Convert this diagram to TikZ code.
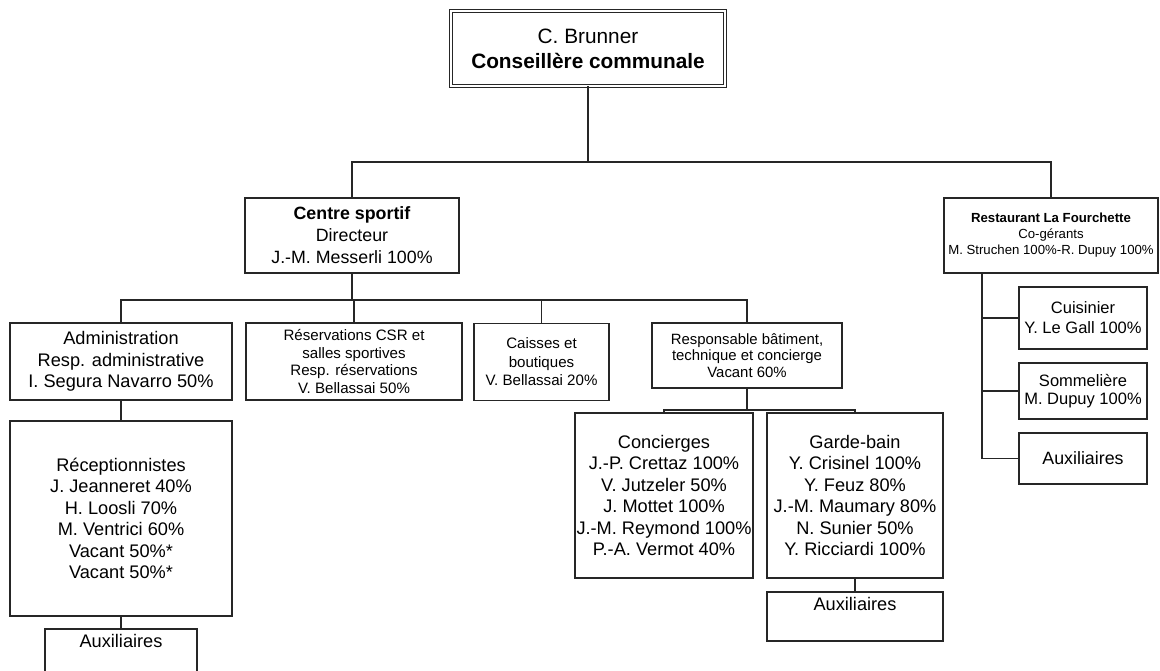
\documentclass[tikz,border=0pt]{standalone}
\usepackage{fontspec}
\setmainfont{Liberation Sans}
\begin{document}
\begin{tikzpicture}[x=1pt, y=-1pt,
    box/.style={draw=black!85, line width=1.1pt, align=center, inner xsep=0.5pt, inner ysep=2pt, outer sep=0pt,
        font=\fontsize{18.2}{21.5}\selectfont},
    smallbox/.style={box, font=\fontsize{15.1}{17.5}\selectfont},
    tinybox/.style={box, font=\fontsize{13.2}{16}\selectfont},
    topbox/.style={box, text height=16pt},
    link/.style={draw=black!85, line width=1.1pt}]
                \useasboundingbox (0,0) rectangle (1160,670);

                % Conseillere
                \node[box, double, line width=1.3pt, double distance=2pt, minimum width=274pt, minimum height=75pt,
                    font=\fontsize{20.8}{25}\selectfont] (brunner) at (588,48.5) {C. Brunner\\\textbf{Conseillère communale}};

                % Centre sportif et restaurant
                \node[box, minimum width=214pt, minimum height=75pt, font=\fontsize{17.8}{22}\selectfont] (centre) at (352,235.5)
                    {\textbf{Centre sportif}\\Directeur\\J.-M. Messerli 100\%};
                \node[tinybox, minimum width=214pt, minimum height=75pt] (resto) at (1051,235.5)
                    {\textbf{Restaurant La Fourchette}\\Co-gérants\\M. Struchen 100\%-R. Dupuy 100\%};

                % Secteurs du centre
                \node[box, minimum width=222pt, minimum height=77pt] (admin) at (121,361.5)
                    {Administration\\Resp. administrative\\I. Segura Navarro 50\%};
                \node[smallbox, minimum width=216pt, minimum height=77pt] (resa) at (354,361.5)
                    {Réservations CSR et\\salles sportives\\Resp. réservations\\V. Bellassai 50\%};
                \node[smallbox, minimum width=135pt, minimum height=77pt, font=\fontsize{15.1}{18.5}\selectfont] (caisses) at (541.5,362)
                    {Caisses et\\boutiques\\V. Bellassai 20\%};
                \node[smallbox, minimum width=190pt, minimum height=65pt, font=\fontsize{14.9}{16.5}\selectfont] (batiment) at (747,355.5)
                    {Responsable bâtiment,\\technique et concierge\\Vacant 60\%};

                % Equipes
                \node[box, minimum width=222pt, minimum height=195pt] (recep) at (121,518.5)
                    {Réceptionnistes\\J. Jeanneret 40\%\\H. Loosli 70\%\\M. Ventrici 60\%\\Vacant 50\%*\\Vacant 50\%*};
                \node[topbox, minimum width=152pt, text depth=38pt, anchor=north] (auxrecep) at (121,629) {Auxiliaires};
                \node[box, minimum width=178pt, minimum height=165pt] (concierges) at (664,495.5)
                    {Concierges\\J.-P. Crettaz 100\%\\V. Jutzeler 50\%\\J. Mottet 100\%\\J.-M. Reymond 100\%\\P.-A. Vermot 40\%};
                \node[box, minimum width=176pt, minimum height=165pt] (garde) at (855,495.5)
                    {Garde-bain\\Y. Crisinel 100\%\\Y. Feuz 80\%\\J.-M. Maumary 80\%\\N. Sunier 50\%\\Y. Ricciardi 100\%};
                \node[topbox, minimum width=176pt, text depth=29pt, anchor=north] (auxgarde) at (855,592) {Auxiliaires};

                % Restaurant
                \node[box, minimum width=128pt, minimum height=62pt, font=\fontsize{16.5}{20}\selectfont] (cuisinier) at (1083,318)
                    {Cuisinier\\Y. Le Gall 100\%};
                \node[box, minimum width=128pt, minimum height=56pt, font=\fontsize{16.5}{18.5}\selectfont] (sommeliere) at (1083,391)
                    {Sommelière\\M. Dupuy 100\%};
                \node[box, minimum width=128pt, minimum height=51pt, font=\fontsize{17.8}{21}\selectfont] (auxresto) at (1083,458.5) {Auxiliaires};

                % Liaisons
                \coordinate (bus1) at (0,162);
                \coordinate (bus2) at (0,300);
                \coordinate (bus3) at (0,410);
                \coordinate (rspine) at (982,273);
                \draw[link] (brunner.south) -- (brunner.south |- bus1);
                \draw[link] (centre.north) |- (resto.north |- bus1) -- (resto.north);
                \draw[link] (centre.south) -- (centre.south |- bus2);
                \draw[link] (admin.north) |- (batiment.north |- bus2) -- (batiment.north);
                \draw[link] (resa.north) -- (resa.north |- bus2);
                \draw[link] (caisses.north) -- (caisses.north |- bus2);
                \draw[link] (admin.south) -- (recep.north);
                \draw[link] (recep.south) -- (auxrecep.north);
                \draw[link] (batiment.south) -- (batiment.south |- bus3);
                \draw[link] (concierges.north) |- (garde.north |- bus3) -- (garde.north);
                \draw[link] (garde.south) -- (auxgarde.north);
                \draw[link] (rspine) |- (auxresto.west);
                \draw[link] (rspine |- cuisinier.west) -- (cuisinier.west);
                \draw[link] (rspine |- sommeliere.west) -- (sommeliere.west);
            \end{tikzpicture}
\end{document}
